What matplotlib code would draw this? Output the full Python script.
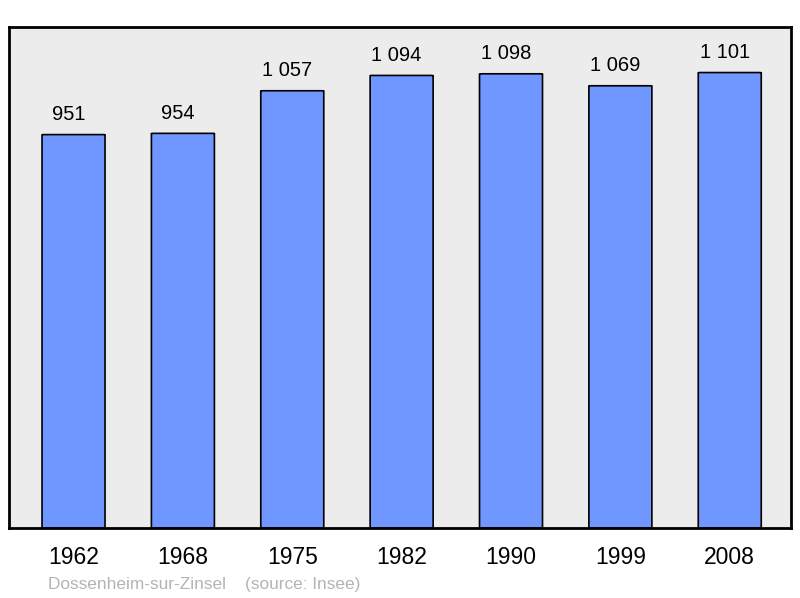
import matplotlib
matplotlib.use("Agg")
import matplotlib.pyplot as plt
import matplotlib.transforms as mtransforms
from matplotlib.patches import FancyBboxPatch

years = ["1962", "1968", "1975", "1982", "1990", "1999", "2008"]
population = [951, 954, 1057, 1094, 1098, 1069, 1101]
labels = ["951", "954", "1 057", "1 094", "1 098", "1 069", "1 101"]

plt.rcParams['font.family'] = ['Liberation Sans', 'DejaVu Sans']

fig = plt.figure(figsize=(8, 5.98), dpi=100)
ax = fig.add_axes([9/800, 1-528/598, 782/800, 501/598])
ax.set_facecolor('#ececec')

shift = mtransforms.ScaledTranslation(-5/100, 0, fig.dpi_scale_trans)
x = list(range(len(years)))
for xi, v, lab in zip(x, population, labels):
    ax.add_patch(FancyBboxPatch((xi - 0.288, 0), 0.576, v,
                                boxstyle="round,pad=0,rounding_size=0.02",
                                facecolor='#7096ff', edgecolor='black',
                                linewidth=1.2, mutation_aspect=30))
    ax.text(xi, v + 25, lab, ha='center', va='bottom', fontsize=14.5, color='black',
            transform=ax.transData + shift)

ax.set_xlim(-0.59, 6.56)
ax.set_ylim(0, 1101 * 1.1)
ax.set_xticks(x)
ax.set_xticklabels(years, fontsize=16.5)
ax.tick_params(axis='x', length=0, pad=13)
ax.set_yticks([])
for s in ax.spines.values():
    s.set_linewidth(2)
    s.set_color('black')

fig.text(48/800, 1-584/598, "Dossenheim-sur-Zinsel    (source: Insee)",
         fontsize=12.4, color='#b4b4b4', ha='left', va='center')

fig.savefig('out.png', dpi=100)
